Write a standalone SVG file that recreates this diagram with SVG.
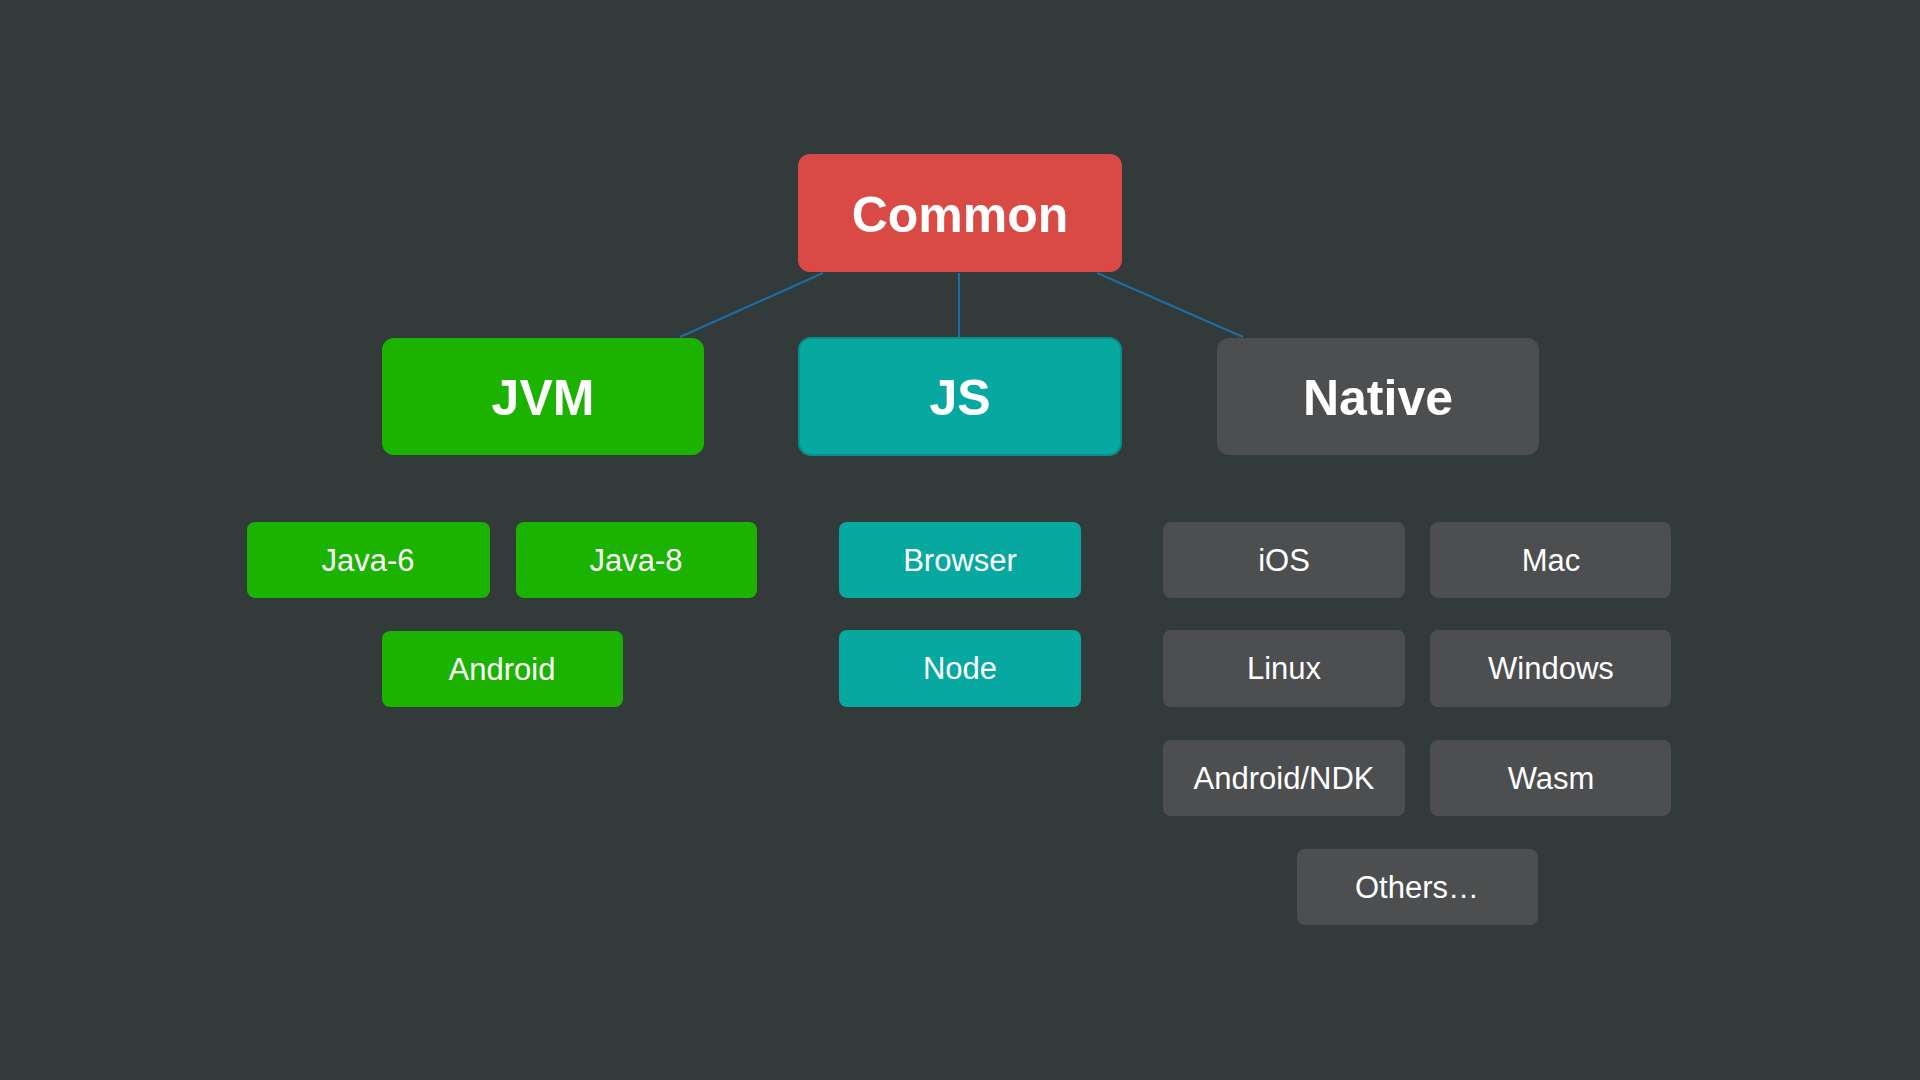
<svg xmlns="http://www.w3.org/2000/svg" width="1920" height="1080" viewBox="0 0 1920 1080">
<style>
text{font-family:"Liberation Sans",Arial,sans-serif;fill:#fff;text-anchor:middle;dominant-baseline:central}
.big{font-size:50px;font-weight:bold}
.sm{font-size:31px}
.g{fill:#1bb300}.t{fill:#06a8a0}.n{fill:#4d4e4f}.r{fill:#d94a44}
</style>
<rect width="1920" height="1080" fill="#323a3a"/>
<g id="connectors" stroke="#1a6fa8" stroke-width="2">
<line x1="823" y1="273" x2="680" y2="337"/>
<line x1="959" y1="273" x2="959" y2="337"/>
<line x1="1097" y1="273" x2="1243" y2="337"/>
</g>
<g id="common"><rect class="r" x="798" y="154" width="324" height="118" rx="12"/><text class="big" x="960" y="215">Common</text></g>
<g id="jvm"><rect class="g" x="382" y="338" width="322" height="117" rx="12"/><text class="big" x="543" y="398">JVM</text></g>
<g id="js"><rect class="t" x="799" y="338" width="322" height="117" rx="12" stroke="#078f8a" stroke-width="2"/><text class="big" x="960" y="398">JS</text></g>
<g id="native"><rect class="n" x="1217" y="338" width="322" height="117" rx="12"/><text class="big" x="1378" y="398">Native</text></g>
<g id="java6"><rect class="g" x="247" y="522" width="243" height="76" rx="8"/><text class="sm" x="368" y="560">Java-6</text></g>
<g id="java8"><rect class="g" x="516" y="522" width="241" height="76" rx="8"/><text class="sm" x="636" y="560">Java-8</text></g>
<g id="android"><rect class="g" x="382" y="631" width="241" height="76" rx="8"/><text class="sm" x="502" y="669">Android</text></g>
<g id="browser"><rect class="t" x="839" y="522" width="242" height="76" rx="8"/><text class="sm" x="960" y="560">Browser</text></g>
<g id="node"><rect class="t" x="839" y="630" width="242" height="77" rx="8"/><text class="sm" x="960" y="668">Node</text></g>
<g id="ios"><rect class="n" x="1163" y="522" width="242" height="76" rx="8"/><text class="sm" x="1284" y="560">iOS</text></g>
<g id="mac"><rect class="n" x="1430" y="522" width="241" height="76" rx="8"/><text class="sm" x="1551" y="560">Mac</text></g>
<g id="linux"><rect class="n" x="1163" y="630" width="242" height="77" rx="8"/><text class="sm" x="1284" y="668">Linux</text></g>
<g id="windows"><rect class="n" x="1430" y="630" width="241" height="77" rx="8"/><text class="sm" x="1551" y="668">Windows</text></g>
<g id="androidndk"><rect class="n" x="1163" y="740" width="242" height="76" rx="8"/><text class="sm" x="1284" y="778">Android/NDK</text></g>
<g id="wasm"><rect class="n" x="1430" y="740" width="241" height="76" rx="8"/><text class="sm" x="1551" y="778">Wasm</text></g>
<g id="others"><rect class="n" x="1297" y="849" width="241" height="76" rx="8"/><text class="sm" x="1417" y="887">Others…</text></g>
</svg>
